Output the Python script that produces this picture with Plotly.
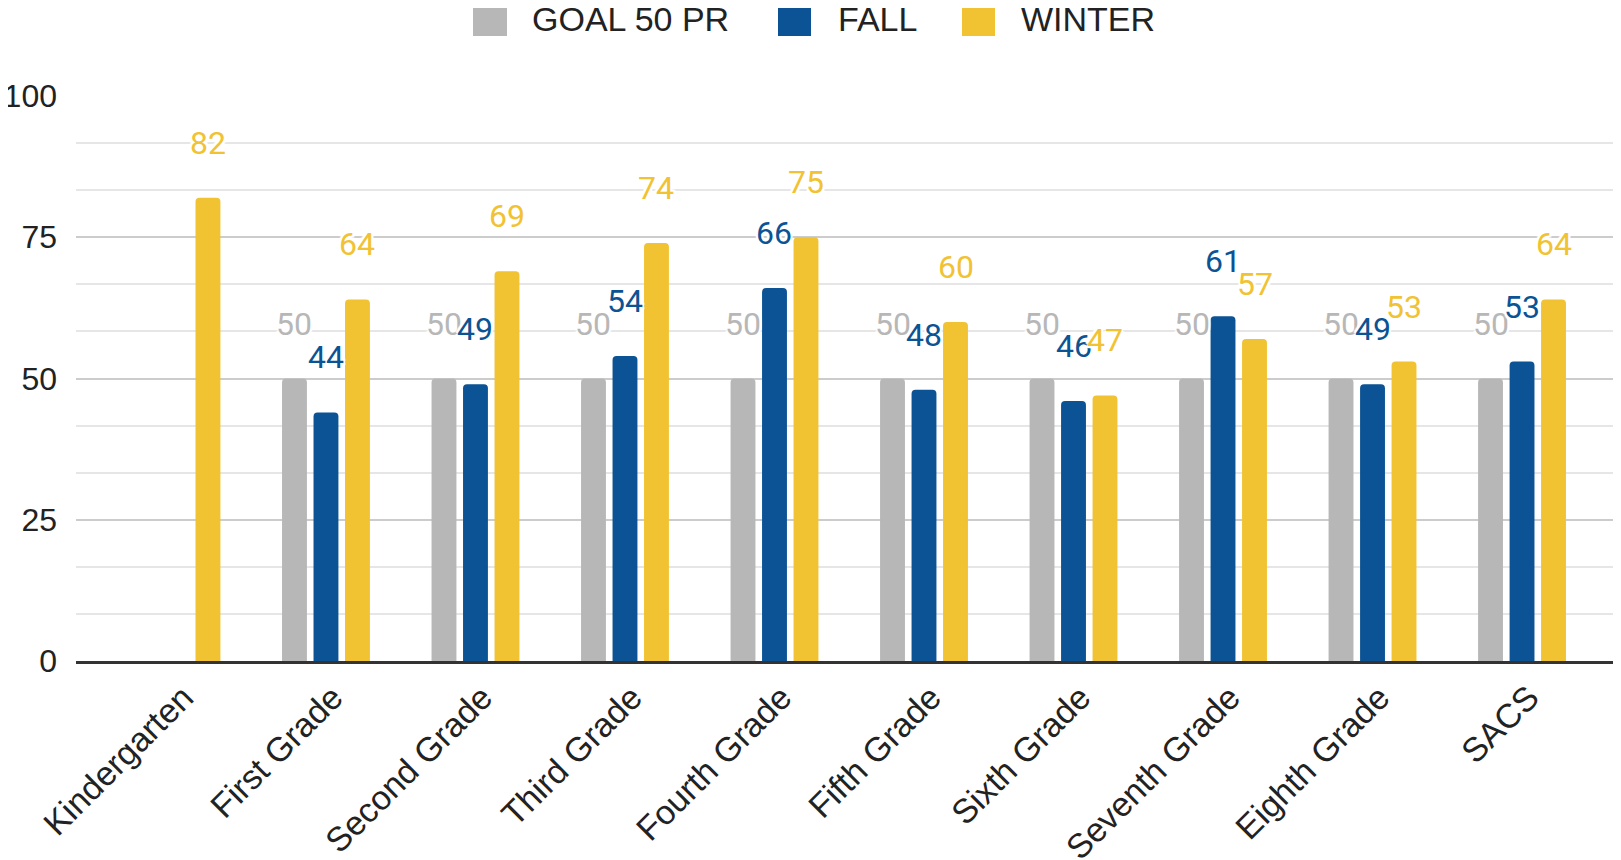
import plotly.graph_objects as go

grades = ["Kindergarten", "First Grade", "Second Grade", "Third Grade", "Fourth Grade",
          "Fifth Grade", "Sixth Grade", "Seventh Grade", "Eighth Grade", "SACS"]
goal = [None, 50, 50, 50, 50, 50, 50, 50, 50, 50]
fall = [None, 44, 49, 54, 66, 48, 46, 61, 49, 53]
winter = [82, 64, 69, 74, 75, 60, 47, 57, 53, 64]

series_names = ["GOAL 50 PR", "FALL", "WINTER"]
series_values = [goal, fall, winter]
colors = ["#b7b7b7", "#0b5394", "#f1c232"]

# page body has an 8px margin, so the figure sits 8px in from the window corner
OFF = 8
W, H = 1621 - OFF, 860 - OFF
ML, MT, MB = 68, 88, 199
plot_w = W - ML
plot_h = H - MT - MB


def px_x(px):
    # window pixel -> paper x
    return (px - OFF - ML) / plot_w


def px_y(py):
    # window pixel -> paper y
    return (H - MB - (py - OFF)) / plot_h


fig = go.Figure()
for name, vals, col in zip(series_names, series_values, colors):
    fig.add_trace(go.Bar(x=grades, y=vals, name=name, marker_color=col,
                         marker_line_width=0, showlegend=False))

# data labels floating above bars
halo = ("white -2px -2px 1px, white 2px -2px 1px, white -2px 2px 1px, "
        "white 2px 2px 1px, white 0 2px 1px, white 0 -2px 1px")
slot = 31.5
for i, (vals, col) in enumerate(zip(series_values, colors)):
    for g, v in zip(grades, vals):
        if v is None:
            continue
        fig.add_annotation(x=g, y=v, text=str(v), showarrow=False,
                           xshift=(i - 1) * slot, yshift=55,
                           font=dict(family="Roboto", size=32, color=col, shadow=halo))

# legend drawn by hand to get the large swatches
legend_swatches = [(473, 507), (778, 811), (962, 995)]
legend_text_x = [530, 836, 1019]
for (x0, x1), tx, name, col in zip(legend_swatches, legend_text_x, series_names, colors):
    fig.add_shape(type="rect", xref="paper", yref="paper",
                  x0=px_x(x0), x1=px_x(x1), y0=px_y(36), y1=px_y(2),
                  fillcolor=col, line_width=0)
    fig.add_annotation(xref="paper", yref="paper", x=px_x(tx), y=px_y(19),
                       xanchor="left", yanchor="middle", text=name, showarrow=False,
                       font=dict(family="Liberation Sans, Arial", size=34, color="#222222"))

fig.update_layout(
    width=W, height=H,
    margin=dict(l=ML, r=0, t=MT, b=MB, autoexpand=False),
    paper_bgcolor="white", plot_bgcolor="white",
    barmode="group", bargap=0.368, bargroupgap=0.21, barcornerradius=4,
    showlegend=False,
    xaxis=dict(type="category", range=[-0.672, 9.662], tickangle=-45, automargin=False,
               tickfont=dict(family="Liberation Sans, Arial", size=34, color="#222222"),
               ticklabelshift=7,
               showgrid=False, showline=True, linecolor="#333333", linewidth=3,
               ticks=""),
    yaxis=dict(range=[0, 100], dtick=25, tick0=0, showline=False, zeroline=False,
               automargin=False,
               gridcolor="#cccccc", gridwidth=2, ticks="", ticklabelstandoff=18,
               tickfont=dict(family="Liberation Sans, Arial", size=32, color="#222222"),
               minor=dict(dtick=25 / 3, tick0=0, showgrid=True,
                          gridcolor="#e6e6e6", gridwidth=2)),
)

fig.write_html("out.html")
